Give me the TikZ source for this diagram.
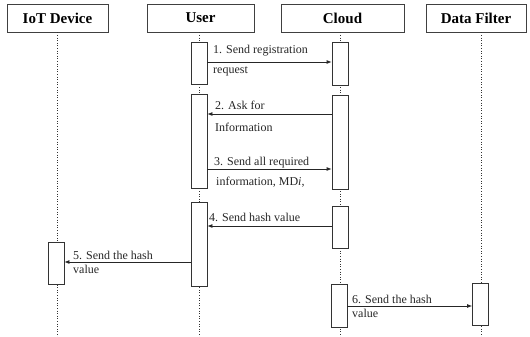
\documentclass[tikz,border=0pt]{standalone}
\usepackage{fontspec}
\setmainfont{Liberation Serif}
\usetikzlibrary{arrows.meta}

\tikzset{
  header/.style={draw=black!75, line width=0.8pt, minimum height=28pt, inner sep=0pt,
    font=\fontsize{15}{18}\selectfont\bfseries},
  act/.style={draw=black!80, fill=white, line width=0.8pt, minimum width=16pt, inner sep=0pt},
  life/.style={black!80, line width=0.6pt, dotted},
  msg/.style={black!85, line width=0.8pt, -{Latex[length=5pt,width=4pt]}},
  lbl/.style={font=\fontsize{12}{14}\selectfont, text=black!85, inner sep=0pt, anchor=base west},
}

\begin{document}
\begin{tikzpicture}[x=1pt, y=-1pt]
  \useasboundingbox (0,0) rectangle (530,337);

  % participants
  \node[header, minimum width=101pt] (iot)    at (57.5,18) {IoT Device};
  \node[header, minimum width=107pt] (user)   at (200.5,18) {User};
  \node[header, minimum width=123pt] (cloud)  at (342.5,18) {Cloud};
  \node[header, minimum width=100pt] (filter) at (476,18) {Data Filter};

  % lifelines
  \foreach \n/\x in {iot/57, user/199, cloud/340, filter/481} { \draw[life] (\n.south -| \x,0) -- (\x,337); }

  % activation boxes
  \node[act, minimum height=42pt] (u1) at (199,63) {};
  \node[act, minimum height=43pt] (c1) at (340,63.5) {};
  \node[act, minimum height=94pt] (u2) at (199,141) {};
  \node[act, minimum height=94pt] (c2) at (340,142) {};
  \node[act, minimum height=84pt] (u3) at (199,244) {};
  \node[act, minimum height=42pt] (c3) at (340,227) {};
  \node[act, minimum height=42pt] (i1) at (56,263) {};
  \node[act, minimum height=43pt] (c4) at (339,305.5) {};
  \node[act, minimum height=42pt] (d1) at (480.5,304) {};

  % message heights
  \coordinate (m1) at (0,62);
  \coordinate (m2) at (0,114);
  \coordinate (m3) at (0,169);
  \coordinate (m4) at (0,226);
  \coordinate (m5) at (0,262);
  \coordinate (m6) at (0,306);

  % messages
  \draw[msg] (u1.east |- m1) -- (c1.west |- m1);
  \draw[msg] (c2.west |- m2) -- (u2.east |- m2);
  \draw[msg] (u2.east |- m3) -- (c2.west |- m3);
  \draw[msg] (c3.west |- m4) -- (u3.east |- m4);
  \draw[msg] (u3.west |- m5) -- (i1.east |- m5);
  \draw[msg] (c4.east |- m6) -- (d1.west |- m6);

  % message labels
  \node[lbl] (l1a) at (213,54) {1. Send registration};
  \node[lbl] (l1b) at (213,74) {request};
  \node[lbl] (l2a) at (215,109) {2. Ask for};
  \node[lbl] (l2b) at (215,131) {Information};
  \node[lbl] (l3a) at (214,165) {3. Send all required};
  \node[lbl] (l3b) at (216,185) {information, MD\textit{i},};
  \node[lbl] (l4a) at (209,221) {4. Send hash value};
  \node[lbl] (l5a) at (73,259) {5. Send the hash};
  \node[lbl] (l5b) at (73,273) {value};
  \node[lbl] (l6a) at (352,303) {6. Send the hash};
  \node[lbl] (l6b) at (352,317) {value};
\end{tikzpicture}
\end{document}
